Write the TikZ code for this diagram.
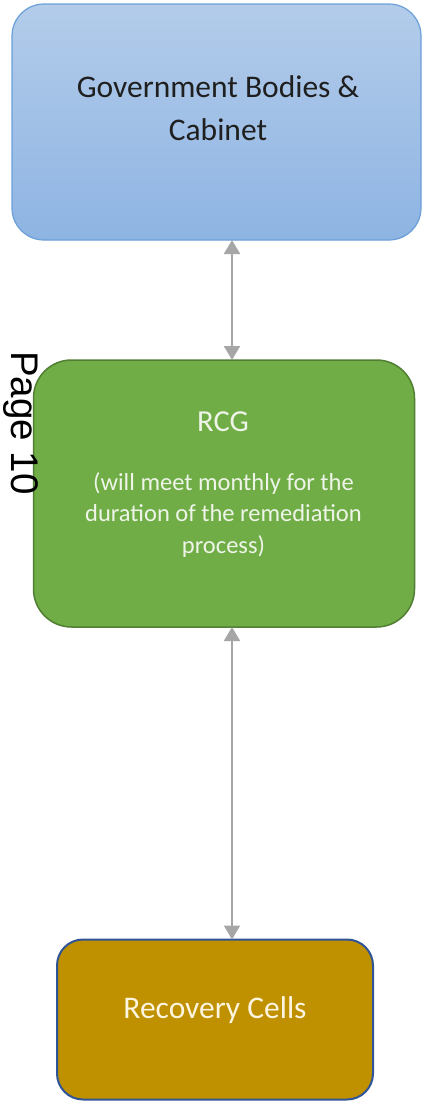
\documentclass[tikz,border=0pt]{standalone}
\usepackage{fontspec}
\setmainfont{Carlito}
\newfontfamily\pagefont{Liberation Sans}
\usetikzlibrary{arrows.meta}
\definecolor{govtop}{HTML}{B3CCEA}
\definecolor{govbot}{HTML}{8EB4E3}
\definecolor{govborder}{HTML}{6A9FD8}
\definecolor{rcgfill}{HTML}{70AD47}
\definecolor{rcgborder}{HTML}{507E32}
\definecolor{recfill}{HTML}{BF9000}
\definecolor{recborder}{HTML}{2F5597}
\definecolor{arrgray}{HTML}{A6A6A6}
\definecolor{rcgtext}{HTML}{EEF5E8}
\definecolor{rectext}{HTML}{FDF5E0}
\begin{document}
\begin{tikzpicture}[x=1pt,y=-1pt,
  boxbase/.style={rectangle, inner sep=0pt, outer sep=0pt},
  govbox/.style={boxbase, draw=govborder, line width=1.2pt, top color=govtop, bottom color=govbot, rounded corners=32pt, minimum width=409pt, minimum height=236pt},
  rcgbox/.style={boxbase, draw=rcgborder, line width=1.5pt, fill=rcgfill, rounded corners=38pt, minimum width=381pt, minimum height=267pt},
  recbox/.style={boxbase, draw=recborder, line width=2pt, fill=recfill, rounded corners=26pt, minimum width=316pt, minimum height=160pt},
  govtxt/.style={inner sep=0pt, anchor=base, font=\fontsize{31.5}{38}\selectfont, text=black!88},
  rcgtitle/.style={inner sep=0pt, anchor=base, font=\fontsize{30.5}{36}\selectfont, text=rcgtext},
  rcgtxt/.style={inner sep=0pt, anchor=base, font=\fontsize{24.5}{30}\selectfont, text=rcgtext},
  rectxt/.style={inner sep=0pt, anchor=base, font=\fontsize{31.5}{38}\selectfont, text=rectext},
  pagetxt/.style={inner sep=0pt, font=\pagefont\fontsize{38.5}{44}\selectfont, text=black},
  conn/.style={draw=arrgray, fill=arrgray, line width=2pt, {Triangle[width=16pt,length=14pt]}-{Triangle[width=16pt,length=14pt]}}
]
\useasboundingbox (0,0) rectangle (423,1101);
% boxes
\node[govbox] (gov) at (216.5,122) {};
\node[rcgbox] (rcg) at (224,493.5) {};
\node[recbox] (rec) at (215,1019.5) {};
% texts
\node[govtxt] (g1) at (218,97) {Government Bodies \&};
\node[govtxt] (g2) at (218,140) {Cabinet};
\node[rcgtitle] (r0) at (223,431.5) {RCG};
\node[rcgtxt] (r1) at (223.5,490) {(will meet monthly for the};
\node[rcgtxt] (r2) at (223.5,521.5) {duration of the remediation};
\node[rcgtxt] (r3) at (223.5,553) {process)};
\node[rectxt] (rc) at (215,1018) {Recovery Cells};
% page label
\node[pagetxt, rotate=-90, anchor=base west] (page) at (12,351) {Page 10};
% connectors
\coordinate (ax) at (232,0);
\draw[conn] (gov.south -| ax) -- (rcg.north -| ax);
\draw[conn] (rcg.south -| ax) -- (rec.north -| ax);
\end{tikzpicture}
\end{document}
